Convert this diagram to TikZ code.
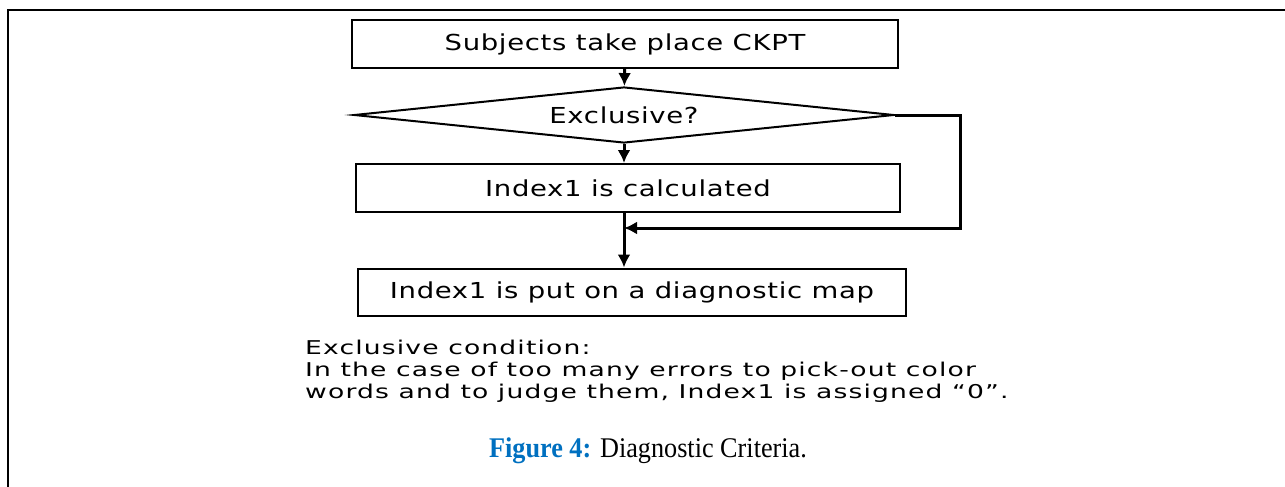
\documentclass[tikz,border=0pt]{standalone}
\usepackage{fontspec}
\setmainfont{Liberation Serif}
\newfontfamily\gothic[FakeStretch=1.25,LetterSpace=3]{DejaVu Sans}
\newfontfamily\gothicwide[FakeStretch=1.4,LetterSpace=6]{DejaVu Sans}
\newfontfamily\capfont[FakeStretch=0.92]{Liberation Serif}
\usetikzlibrary{shapes.geometric,arrows.meta}
\definecolor{capblue}{RGB}{0,112,192}
\begin{document}
\begin{tikzpicture}[x=1pt,y=-1pt,>={Latex[length=13pt,width=13pt]},
  box/.style={draw,line width=2pt,minimum height=48pt,inner sep=0pt,font=\gothic\fontsize{22}{24}\selectfont},
  flow/.style={line width=3pt}]
\useasboundingbox (0,0) rectangle (1285,487);
% frame
\draw[line width=2.5pt] (8,487)--(8,10)--(1285,10);
% steps
\node[box,minimum width=546pt] (ckpt) at (625,44) {Subjects take place CKPT};
\node[draw,diamond,line width=2pt,inner sep=0pt,aspect=9.6,minimum width=540pt,minimum height=56pt,font=\gothic\fontsize{22}{24}\selectfont] (excl) at (624,115) {Exclusive?};
\node[box,minimum width=544pt] (calc) at (628,188) {Index1 is calculated};
\node[box,minimum width=548pt,minimum height=47pt] (putmap) at (632,292) {Index1 is put on a diagnostic map};
\coordinate (bend) at (960,228);
% arrows
\draw[flow,->] (ckpt) -- (excl);
\draw[flow,->] (excl.south) -- (excl.south |- calc.north);
\draw[flow,->] (excl.south |- calc.south) -- (excl.south |- putmap.north);
\draw[flow,->] (excl.east) -- (excl.east -| bend) -- (bend) -- (bend -| excl.south);
% notes
\node[anchor=north west,align=left,inner sep=0pt,font=\gothicwide\fontsize{19}{22}\selectfont] (cond) at (305,340)
  {Exclusive condition:\\In the case of too many errors to pick-out color\\words and to judge them, Index1 is assigned “0”.};
\node[font=\capfont\fontsize{28.5}{32}\selectfont] (cap) at (648,451) {\textcolor{capblue}{\textbf{Figure 4:}} Diagnostic Criteria.};
\end{tikzpicture}
\end{document}
